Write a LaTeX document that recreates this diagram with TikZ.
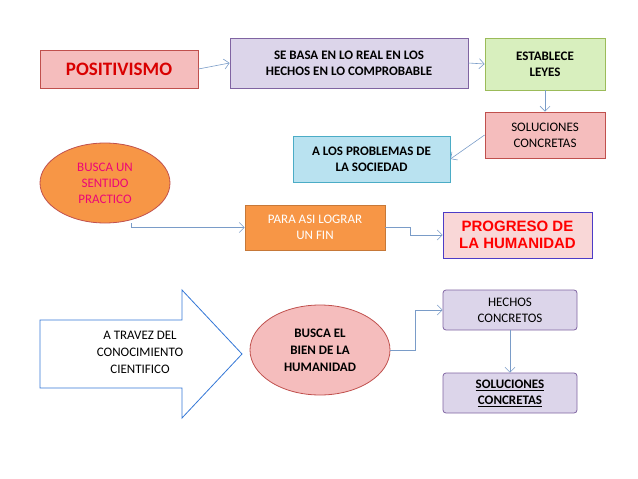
\documentclass[tikz,border=0pt]{standalone}
\usepackage{fontspec}
\setmainfont{Carlito}
\newfontfamily\arialf{Liberation Sans}
\usetikzlibrary{shapes.geometric,arrows.meta}
\definecolor{pinkf}{HTML}{F5BDBD}
\definecolor{redb}{HTML}{C0504D}
\definecolor{lav}{HTML}{DCD5EA}
\definecolor{lavb}{HTML}{8064A2}
\definecolor{grnf}{HTML}{D8EFBE}
\definecolor{grnb}{HTML}{9BBB59}
\definecolor{bluf}{HTML}{B9E2F0}
\definecolor{blub}{HTML}{4BACC6}
\definecolor{orf}{HTML}{F79646}
\definecolor{conn}{HTML}{7A9CC8}
\tikzset{
 bx/.style={draw, line width=0.8pt, align=center, font=\fontsize{13}{16}\selectfont, inner sep=2pt},
 bb/.style={font=\bfseries\fontsize{13}{16}\selectfont},
 cn/.style={draw=conn, line width=0.6pt, -{Straight Barb[length=5pt]}},
}
\begin{document}
\begin{tikzpicture}[x=1pt,y=-1pt]
\useasboundingbox (0,0) rectangle (638,479);
\node[bx, fill=pinkf, draw=redb, minimum width=158, minimum height=38, text=red!85!black, font=\bfseries\fontsize{19}{22}\selectfont] (pos) at (119,69) {POSITIVISMO};
\node[bx, bb, fill=lav, draw=lavb, minimum width=238, minimum height=50] (base) at (349,63) {SE BASA EN LO REAL EN LOS\\HECHOS EN LO COMPROBABLE};
\node[bx, bb, fill=grnf, draw=grnb, minimum width=120, minimum height=52] (est) at (545,64) {ESTABLECE\\LEYES};
\node[bx, fill=pinkf, draw=redb, minimum width=120, minimum height=46] (sol) at (545,135) {SOLUCIONES\\CONCRETAS};
\node[bx, bb, fill=bluf, draw=blub, minimum width=157, minimum height=46] (prob) at (371.5,159) {A LOS PROBLEMAS DE\\LA SOCIEDAD};
\node[ellipse, draw=redb, line width=0.8pt, fill=orf, minimum width=130, minimum height=80, inner sep=0pt, align=center, text={magenta!80!red}, font=\fontsize{13}{16}\selectfont] (bsp) at (105,183) {BUSCA UN\\SENTIDO\\PRACTICO};
\node[bx, fill=orf, draw=orf!80!black, minimum width=140, minimum height=45, text=white] (fin) at (315,227.5) {PARA ASI LOGRAR\\UN FIN};
\node[bx, fill=pinkf!60!white, draw=lavb!60!blue, minimum width=149, minimum height=46, text=red, font=\arialf\bfseries\fontsize{15}{17}\selectfont] (prog) at (517.5,235) {PROGRESO DE\\LA HUMANIDAD};
\draw[draw=blub!70!blue, line width=0.8pt, fill=white] (40,320) -- (182,320) -- (182,290) -- (242,354) -- (182,418) -- (182,388) -- (40,388) -- cycle;
\node[align=center, font=\fontsize{13}{17}\selectfont] (arrt) at (140,352) {A TRAVEZ DEL\\CONOCIMIENTO\\CIENTIFICO};
\node[ellipse, draw=redb, line width=0.8pt, fill=pinkf, minimum width=140, minimum height=90, inner sep=0pt, align=center, font=\bfseries\fontsize{13}{17}\selectfont] (bien) at (320,350) {BUSCA EL\\BIEN DE LA\\HUMANIDAD};
\node[bx, fill=lav, draw=lavb, minimum width=134, minimum height=40, rounded corners=3pt] (hech) at (510,310) {HECHOS\\CONCRETOS};
\node[bx, bb, fill=lav, draw=lavb, minimum width=134, minimum height=40, rounded corners=3pt] (sol2) at (510,393) {\underline{SOLUCIONES}\\\underline{CONCRETAS}};
\draw[cn] (pos.east) -- (base.west);
\draw[cn] (base.east) -- (est.west);
\draw[cn] (est.south) -- (sol.north);
\draw[cn] (sol.west) -- (prob.east);
\draw[cn] (bsp.south -| 131,0) |- (fin.west);
\draw[cn] (fin.east) -- ++(25,0) |- (prog.west);
\draw[cn] (bien.east) -- ++(25,0) |- (hech.west);
\draw[cn] (hech.south) -- (sol2.north);
\end{tikzpicture}
\end{document}
